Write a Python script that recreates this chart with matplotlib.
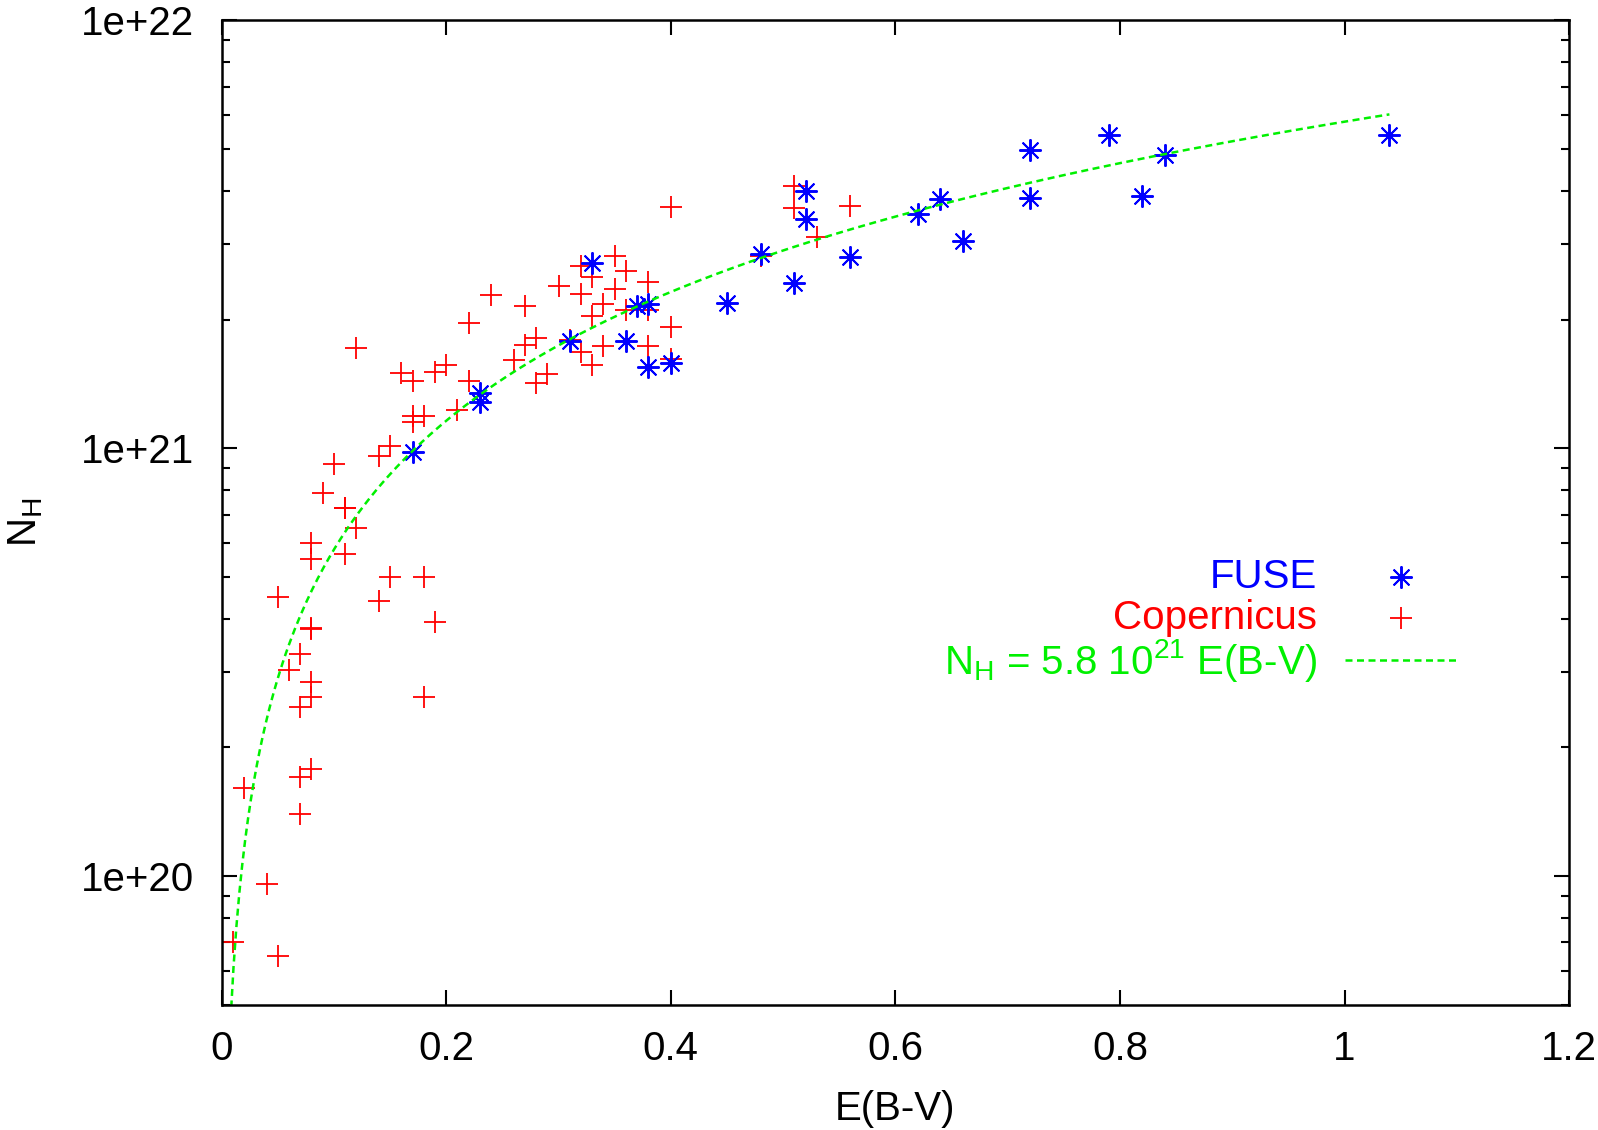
import numpy as np
import matplotlib.pyplot as plt
from matplotlib.ticker import LogLocator, NullFormatter, FixedLocator

plt.rcParams['font.family'] = ['Liberation Sans', 'DejaVu Sans']
plt.rcParams['mathtext.fontset'] = 'custom'
plt.rcParams['mathtext.rm'] = 'Liberation Sans'

# FUSE sample
fuse_ebv = [0.17, 0.23, 0.23, 0.31, 0.33, 0.36, 0.37, 0.38, 0.38, 0.40,
            0.45, 0.48, 0.51, 0.52, 0.52, 0.56, 0.62, 0.64, 0.66, 0.72,
            0.72, 0.79, 0.82, 0.84, 1.04]
fuse_nh = [9.8e20, 1.35e21, 1.28e21, 1.78e21, 2.71e21, 1.78e21, 2.15e21, 2.17e21, 1.55e21, 1.58e21,
           2.19e21, 2.85e21, 2.43e21, 4.0e21, 3.43e21, 2.8e21, 3.53e21, 3.83e21, 3.06e21, 4.99e21,
           3.85e21, 5.41e21, 3.89e21, 4.85e21, 5.39e21]

# Copernicus sample
cop_ebv = [0.01, 0.02, 0.04, 0.05, 0.05, 0.06, 0.07, 0.07, 0.07, 0.07,
           0.08, 0.08, 0.08, 0.08, 0.08, 0.08, 0.09, 0.10, 0.11, 0.11,
           0.12, 0.14, 0.14, 0.15, 0.15, 0.18, 0.18, 0.19, 0.12, 0.16,
           0.17, 0.20, 0.19, 0.22, 0.22, 0.24, 0.17, 0.18, 0.17, 0.21,
           0.27, 0.30, 0.28, 0.27, 0.26, 0.29, 0.28, 0.31, 0.32, 0.33,
           0.35, 0.32, 0.35, 0.36, 0.38, 0.34, 0.33, 0.36, 0.38, 0.40,
           0.38, 0.34, 0.32, 0.33, 0.40, 0.40, 0.51, 0.51, 0.53, 0.56,
           0.48, 0.08, 0.11]
cop_nh = [7.0e19, 1.61e20, 9.6e19, 6.5e19, 4.5e20, 3.04e20, 1.71e20, 1.40e20, 3.3e20, 2.49e20,
          1.78e20, 6.0e20, 5.5e20, 3.79e20, 2.84e20, 2.63e20, 7.87e20, 9.2e20, 7.27e20, 5.65e20,
          6.53e20, 9.6e20, 4.4e20, 1.01e21, 5.0e20, 5.0e20, 2.63e20, 3.93e20, 1.72e21, 1.50e21,
          1.44e21, 1.57e21, 1.51e21, 1.96e21, 1.44e21, 2.28e21, 1.19e21, 1.19e21, 1.15e21, 1.23e21,
          2.15e21, 2.39e21, 1.81e21, 1.74e21, 1.61e21, 1.49e21, 1.42e21, 1.79e21, 2.67e21, 2.52e21,
          2.81e21, 2.29e21, 2.36e21, 2.59e21, 2.45e21, 2.17e21, 2.04e21, 2.1e21, 2.1e21, 1.92e21,
          1.73e21, 1.73e21, 1.68e21, 1.57e21, 1.62e21, 3.67e21, 4.1e21, 3.64e21, 3.11e21, 3.69e21,
          2.81e21, 3.8e20, 7.27e20]

# fitted relation N_H = 5.8e21 E(B-V)
fit_coef = 5.8e21
fit_range = [0.008, 1.04]

green = '#00f000'
dash = (2.8, 1.8)
fs = 29

fig = plt.figure(figsize=(15.98, 11.30), dpi=100)
ax = fig.add_axes([0.1387, 0.1106, 0.8432, 0.8713])

ax.plot(cop_ebv, cop_nh, linestyle='none', marker='+', color='#ff0000',
        markersize=16, markeredgewidth=1.3)
ax.plot(fuse_ebv, fuse_nh, linestyle='none', marker=(8, 2, 0), color='#0000ff',
        markersize=16, markeredgewidth=1.4)
xf = np.linspace(fit_range[0], fit_range[1], 400)
ax.plot(xf, fit_coef * xf, color=green, linewidth=1.8, dashes=dash)

ax.set_yscale('log')
ax.set_xlim(0, 1.2)
ax.set_ylim(5e19, 1e22)
ax.xaxis.set_major_locator(FixedLocator([0, 0.2, 0.4, 0.6, 0.8, 1.0, 1.2]))
ax.set_xticklabels(['0', '0.2', '0.4', '0.6', '0.8', '1', '1.2'])
ax.yaxis.set_major_locator(FixedLocator([1e20, 1e21, 1e22]))
ax.set_yticklabels(['1e+20', '1e+21', '1e+22'])
ax.yaxis.set_minor_locator(LogLocator(base=10, subs=np.arange(2, 10)))
ax.yaxis.set_minor_formatter(NullFormatter())

ax.tick_params(which='both', direction='in', top=True, right=True, width=1.5,
               labelsize=fs, colors='black')
ax.tick_params(axis='x', which='major', pad=18)
ax.tick_params(axis='y', which='major', pad=20)
ax.tick_params(which='major', length=11)
ax.tick_params(which='minor', length=6)
for s in ax.spines.values():
    s.set_linewidth(1.8)

ax.text(0.5, -0.1056, 'E(B-V)', fontsize=fs, ha='center', va='center',
        transform=ax.transAxes)
ax.text(-0.1456, 0.49, r'N$_\mathrm{H}$', fontsize=fs, ha='center', va='center',
        rotation=90, transform=ax.transAxes)

# gnuplot style key
tx, mx = 0.813, 0.875
ax.text(tx, 0.4347, 'FUSE', color='#0000ff', fontsize=fs, ha='right', va='center',
        transform=ax.transAxes)
ax.plot([mx], [0.4347], marker=(8, 2, 0), color='#0000ff', markersize=16,
        markeredgewidth=1.4, transform=ax.transAxes)
ax.text(tx, 0.393, 'Copernicus', color='#ff0000', fontsize=fs, ha='right', va='center',
        transform=ax.transAxes)
ax.plot([mx], [0.393], marker='+', color='#ff0000', markersize=16,
        markeredgewidth=1.3, transform=ax.transAxes)
ax.text(tx, 0.350, r'N$_\mathrm{H}$ = 5.8 10$^{21}$ E(B-V)', color=green, fontsize=fs,
        ha='right', va='center', transform=ax.transAxes)
ax.plot([0.834, 0.918], [0.350, 0.350], color=green, linewidth=1.8, dashes=dash,
        transform=ax.transAxes)

fig.savefig('out.png', dpi=100)
